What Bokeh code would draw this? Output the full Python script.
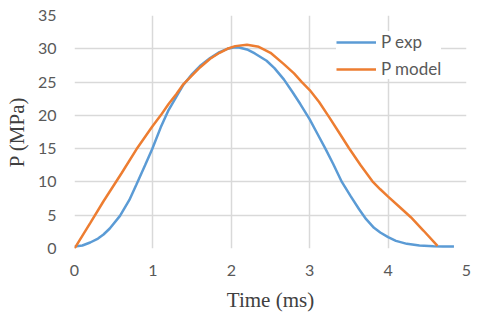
from bokeh.plotting import figure
from bokeh.models import Range1d, FixedTicker, Legend, LegendItem
from bokeh.embed import file_html
from bokeh.resources import INLINE

# data
t_exp = [0, 0.1, 0.2, 0.3, 0.37, 0.45, 0.58, 0.7, 0.79, 0.9, 0.99, 1.1, 1.2, 1.3,
         1.39, 1.5, 1.6, 1.73, 1.85, 1.95, 2.03, 2.1, 2.2, 2.3, 2.45, 2.55, 2.67,
         2.78, 2.88, 3.0, 3.1, 3.2, 3.3, 3.41, 3.52, 3.63, 3.72, 3.82, 3.9, 4.0,
         4.1, 4.24, 4.4, 4.58, 4.7, 4.84]
p_exp = [0.3, 0.45, 0.9, 1.5, 2.1, 3.0, 4.9, 7.3, 9.6, 12.5, 14.9, 18.2, 20.8, 22.8,
         24.6, 26.2, 27.4, 28.6, 29.5, 30.0, 30.2, 30.2, 29.9, 29.3, 28.2, 27.1, 25.4,
         23.5, 21.7, 19.4, 17.2, 15.0, 12.7, 10.0, 7.9, 5.9, 4.4, 3.1, 2.4, 1.7,
         1.15, 0.7, 0.45, 0.35, 0.3, 0.3]
t_model = [0, 0.2, 0.37, 0.6, 0.79, 0.99, 1.1, 1.2, 1.3, 1.39, 1.5, 1.6, 1.73, 1.85,
           1.95, 2.05, 2.2, 2.35, 2.5, 2.67, 2.8, 2.9, 3.0, 3.12, 3.25, 3.37, 3.5,
           3.65, 3.8, 3.9, 4.0, 4.15, 4.29, 4.45, 4.63]
p_model = [0, 3.8, 7.1, 11.3, 14.9, 18.3, 20.0, 21.7, 23.2, 24.7, 26.0, 27.2, 28.5, 29.4,
           30.0, 30.4, 30.6, 30.3, 29.4, 27.7, 26.3, 25.0, 23.8, 22.0, 19.7, 17.5, 15.1,
           12.5, 10.1, 8.9, 7.8, 6.2, 4.7, 2.7, 0.4]
x_ticks = [0, 1, 2, 3, 4, 5]
y_ticks = [0, 5, 10, 15, 20, 25, 30, 35]
labels = ["P exp", "P model"]

p = figure(width=480, height=318, output_backend="svg", toolbar_location=None,
           x_range=Range1d(0, 5), y_range=Range1d(0, 35),
           min_border_left=74, min_border_right=14, min_border_top=15, min_border_bottom=70)
p.outline_line_color = None
p.background_fill_color = "white"

r1 = p.line(t_exp, p_exp, line_color="#5B9BD5", line_width=2.5)
r2 = p.line(t_model, p_model, line_color="#ED7D31", line_width=2.5)

for ax in (p.xaxis[0], p.yaxis[0]):
    ax.axis_line_color = None
    ax.major_tick_line_color = None
    ax.minor_tick_line_color = None
    ax.major_tick_out = 0
    ax.major_tick_in = 0
    ax.major_label_text_font = "Lato"
    ax.major_label_text_font_size = "16px"
    ax.major_label_text_color = "#595959"
    ax.axis_label_text_font = "Liberation Serif"
    ax.axis_label_text_font_size = "21px"
    ax.axis_label_text_font_style = "normal"
    ax.axis_label_text_color = "#404040"

p.xaxis[0].ticker = FixedTicker(ticks=x_ticks)
p.yaxis[0].ticker = FixedTicker(ticks=y_ticks)
p.xaxis[0].major_label_standoff = 16
p.yaxis[0].major_label_standoff = 18
p.xaxis[0].axis_label = "Time (ms)"
p.yaxis[0].axis_label = "P (MPa)"
p.xaxis[0].axis_label_standoff = 9
p.yaxis[0].axis_label_standoff = 6

for g in (p.xgrid[0], p.ygrid[0]):
    g.grid_line_color = "#d9d9d9"
    g.grid_line_width = 1.5

legend = Legend(items=[LegendItem(label=labels[0], renderers=[r1]),
                       LegendItem(label=labels[1], renderers=[r2])],
                location=(262, 169), orientation="vertical",
                glyph_width=40, glyph_height=20, label_height=20,
                spacing=6, padding=10, label_standoff=5,
                label_text_font="Lato", label_text_font_size="17px",
                label_text_color="#595959",
                border_line_color=None, background_fill_color="white",
                background_fill_alpha=1.0)
p.add_layout(legend, "center")

open("out.html", "w").write(file_html(p, INLINE))
